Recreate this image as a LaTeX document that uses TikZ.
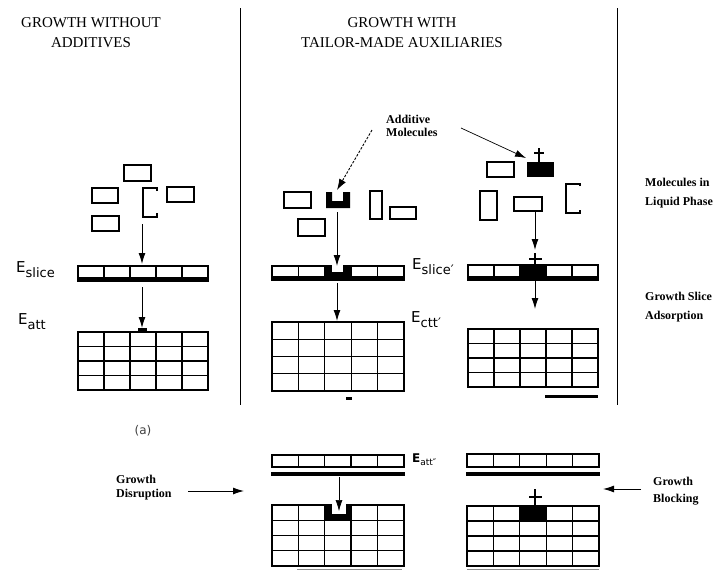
\documentclass[tikz,border=0pt]{standalone}
\usepackage{fontspec}
\setmainfont{Liberation Serif}
\newfontfamily\efont{DejaVu Sans}
\usetikzlibrary{arrows.meta}
\begin{document}
\begin{tikzpicture}[x=1pt,y=-1pt,
  cellline/.style={line width=1.1pt},
  thickline/.style={line width=1.9pt},
  mol/.style={draw, line width=1.1pt, inner sep=0pt, outer sep=0pt},
  arr/.style={line width=0.9pt,-{Latex[length=11pt,width=7pt]}},
  darr/.style={line width=0.9pt,dash pattern=on 2.5pt off 1.5pt,-{Latex[length=11pt,width=7.5pt]}},
  hdr/.style={font=\fontsize{15}{20}\selectfont, align=center, inner sep=0pt},
  lbl/.style={font=\bfseries\fontsize{12}{19}\selectfont, align=left, inner sep=0pt, anchor=north west},
  elbl/.style={inner sep=0pt, anchor=west, font=\efont\fontsize{15}{15}\selectfont},
]
\useasboundingbox (0,0) rectangle (723,571);

% ---------- headers and separators
\node[hdr] (h1) at (91,33) {GROWTH WITHOUT\\ADDITIVES};
\node[hdr] (h2) at (402,33) {GROWTH WITH\\TAILOR-MADE AUXILIARIES};
\draw[line width=1pt] (240,8) -- (240,405);
\draw[line width=1pt] (617,8) -- (617,405);

% ---------- right labels
\node[lbl] (lq) at (645,178) {Molecules in\\Liquid Phase};
\node[lbl] (gs) at (645,292) {Growth Slice\\Adsorption};
\node[lbl, font=\bfseries\fontsize{12}{13}\selectfont] (addm) at (386,115) {Additive\\Molecules};

% ---------- E labels
\node[elbl] (e1) at (16,270) {E\raisebox{-5pt}{\fontsize{13}{13}\selectfont slice}};
\node[elbl] (e2) at (18,322) {E\raisebox{-5pt}{\fontsize{13}{13}\selectfont att}};
\node[elbl] (e3) at (412,267) {E\raisebox{-5pt}{\fontsize{13}{13}\selectfont slice′}};
\node[elbl] (e4) at (411,320) {E\raisebox{-5pt}{\fontsize{13}{13}\selectfont ctt′}};
\node[elbl, font=\efont\bfseries\fontsize{12}{12}\selectfont] (e5) at (412,460) {E\raisebox{-3pt}{\mdseries\fontsize{9}{9}\selectfont att″}};
\node[inner sep=0pt, font=\efont\fontsize{12}{12}\selectfont, text=black!75] (la) at (143,431) {(a)};

% ================= panel (a)
\node[mol, minimum width=27pt, minimum height=16pt] (a1) at (137.5,173) {};
\node[mol, minimum width=26pt, minimum height=15pt] (a2) at (105,195.5) {};
\node[mol, minimum width=27pt, minimum height=15pt] (a3) at (180.5,194.5) {};
\node[mol, minimum width=27pt, minimum height=15pt] (a4) at (105.5,223.5) {};
\draw[line width=1.1pt] (157,191) -- (157,188) -- (143,188) -- (143,217) -- (157,217) -- (157,213);
\coordinate (aS1) at (142,224); \coordinate (aE1) at (142,264);
\draw[arr] (aS1) -- (aE1);
\draw[cellline] (78,266) rectangle (208,278);
\foreach \x in {104,130,156,182} \draw[cellline] (\x,266) -- (\x,278);
\fill (77,277.5) rectangle (209,281.5);
\coordinate (aS2) at (142,287); \coordinate (aE2) at (142,328);
\draw[arr] (aS2) -- (aE2);
\draw[cellline] (78,332) rectangle (208,390);
\foreach \x in {104,130,156,182} \draw[cellline] (\x,332) -- (\x,390);
\foreach \y in {346.5,361,375.5} \draw[cellline] (78,\y) -- (208,\y);
\fill (138,328) rectangle (147,332);

% ================= middle panel
\node[mol, minimum width=27pt, minimum height=16pt] (b1) at (297.5,200) {};
\fill (326,192) -- (332,192) -- (332,201) -- (343,201) -- (343,192) -- (350,192) -- (350,208) -- (326,208) -- cycle;
\node[mol, minimum width=12pt, minimum height=28pt] (b3) at (376,205) {};
\node[mol, minimum width=26pt, minimum height=12pt] (b4) at (403,213) {};
\node[mol, minimum width=27pt, minimum height=17pt] (b5) at (311.5,227.5) {};
\coordinate (dS) at (372,130); \coordinate (dE) at (337,190);
\draw[darr] (dS) -- (dE);
\draw[cellline] (272,266) rectangle (404,277);
\foreach \x in {298.4,324.8,351.2,377.6} \draw[cellline] (\x,266) -- (\x,277);
\fill (324.8,265.4) -- (351.2,265.4) -- (351.2,277) -- (324.8,277) -- cycle;
\fill[white] (332,264.5) rectangle (343,272);
\fill (271,277) rectangle (405,281);
\coordinate (bS1) at (337,212); \coordinate (bE1) at (337,266);
\draw[arr] (bS1) -- (bE1);
\coordinate (bS2) at (337,283); \coordinate (bE2) at (337,321);
\draw[arr] (bS2) -- (bE2);
\draw[cellline] (272,322) rectangle (404,391);
\foreach \x in {298.4,324.8,351.2,377.6} \draw[cellline] (\x,322) -- (\x,391);
\foreach \y in {339.25,356.5,373.75} \draw[cellline] (272,\y) -- (404,\y);
\fill (346,396.5) rectangle (352,399.5);

% ================= right panel
\node[mol, minimum width=27pt, minimum height=15pt] (c1) at (500.5,169.5) {};
\fill (527,162) rectangle (554,177);
\draw[line width=1.1pt] (539,148) -- (539,162) (534,153) -- (544,153);
\node[mol, minimum width=17pt, minimum height=29pt] (c3) at (488.5,205.5) {};
\node[mol, minimum width=28pt, minimum height=14pt] (c4) at (528,204) {};
\draw[line width=1.1pt] (580,186) -- (580,184) -- (566,184) -- (566,213) -- (580,213) -- (580,210);
\coordinate (mS) at (461,128); \coordinate (mE) at (526,158);
\draw[arr, line width=0.7pt] (mS) -- (mE);
\coordinate (cS1) at (535,212); \coordinate (cE1) at (535,250);
\draw[arr] (cS1) -- (cE1);
\draw[line width=1.1pt] (535,253) -- (535,265) (529,259) -- (542,259);
\draw[cellline] (468,265) rectangle (598,277);
\foreach \x in {494,520,546,572} \draw[cellline] (\x,265) -- (\x,277);
\fill (520,265) rectangle (546,277);
\fill (467,277) rectangle (599,281);
\coordinate (cS2) at (535,281); \coordinate (cE2) at (535,309);
\draw[arr] (cS2) -- (cE2);
\draw[cellline] (468,329) rectangle (598,387);
\foreach \x in {494,520,546,572} \draw[cellline] (\x,329) -- (\x,387);
\foreach \y in {343.5,358,372.5} \draw[cellline] (468,\y) -- (598,\y);
\fill (545,395) rectangle (598,398);

% ================= bottom middle (disruption)
\node[lbl, font=\bfseries\fontsize{12}{14}\selectfont] (gd) at (116,475) {Growth\\Disruption};
\coordinate (gdS) at (188,491); \coordinate (gdE) at (244,491);
\draw[arr] (gdS) -- (gdE);
\draw[cellline] (272,455) rectangle (404,467);
\foreach \x in {298.4,324.8,377.6} \draw[cellline] (\x,455) -- (\x,467);
\draw[thickline] (351.2,455) -- (351.2,467);
\fill (271,471.5) rectangle (405,476);
\draw[cellline] (272,505) rectangle (404,566);
\foreach \x in {298.4,324.8,377.6} \draw[cellline] (\x,505) -- (\x,566);
\draw[thickline] (351.2,505) -- (351.2,566);
\foreach \y in {520.25,535.5,550.75} \draw[cellline] (272,\y) -- (404,\y);
\fill (324.8,504.4) rectangle (352.1,520.25);
\fill[white] (332,503.5) rectangle (346,514);
\coordinate (dS2) at (339,477); \coordinate (dE2) at (339,511);
\draw[arr, line width=0.6pt] (dS2) -- (dE2);
\draw[black!45, line width=0.7pt] (297,569.5) -- (402,569.5);

% ================= bottom right (blocking)
\node[lbl, font=\bfseries\fontsize{12}{17}\selectfont] (gb) at (653,477) {Growth\\Blocking};
\coordinate (gbS) at (641,489); \coordinate (gbE) at (603,489);
\draw[arr] (gbS) -- (gbE);
\draw[cellline] (467,454) rectangle (599,467);
\foreach \x in {493.4,519.8,546.2,572.6} \draw[cellline] (\x,454) -- (\x,467);
\fill (466,472) rectangle (600,476);
\draw[line width=1.1pt] (535,489) -- (535,506) (529,497) -- (542,497);
\draw[cellline] (467,506) rectangle (599,566);
\foreach \x in {493.4,519.8,546.2,572.6} \draw[cellline] (\x,506) -- (\x,566);
\foreach \y in {521,536,551} \draw[cellline] (467,\y) -- (599,\y);
\fill (519.8,506) rectangle (546.2,521);
\draw[black!45, line width=0.7pt] (467,569.5) -- (599,569.5);
\end{tikzpicture}
\end{document}
